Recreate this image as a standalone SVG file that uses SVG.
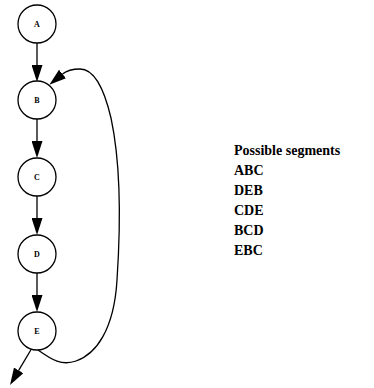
<svg xmlns="http://www.w3.org/2000/svg" width="374" height="388" viewBox="0 0 374 388">
<style>
.node circle{fill:#fff;stroke:#000;stroke-width:1.3}
.node text{font-family:"Liberation Serif",serif;font-weight:bold;font-size:8px;text-anchor:middle}
.edge{fill:none;stroke:#000;stroke-width:1.3;marker-end:url(#arr)}
.legend{font-family:"Liberation Serif",serif;font-weight:bold;font-size:14px}
</style>
<defs>
<marker id="arr" viewBox="0 0 17 11" refX="0" refY="5.5" markerWidth="17" markerHeight="11" markerUnits="userSpaceOnUse" orient="auto">
<path d="M0,0 L17,5.5 L0,11 z" fill="#000"/>
</marker>
</defs>
<rect width="374" height="388" fill="#fff"/>
<g id="connectors">
<line class="edge" x1="37" y1="43" x2="37" y2="65"/>
<line class="edge" x1="37" y1="119" x2="37" y2="141"/>
<line class="edge" x1="37" y1="196" x2="37" y2="218"/>
<line class="edge" x1="37" y1="273" x2="37" y2="295"/>
<line class="edge" x1="32" y1="348" x2="18.7" y2="370.4"/>
<path class="edge" d="M38,350 C52,360 62,366 76,361 C96,354 114,330 117,280 C121,220 120,160 111,118 C103,84 92,69 80,69 C74,69 68,69.5 62.5,74"/>
</g>
<g id="A" class="node"><circle cx="37" cy="24" r="19"/><text x="37" y="27">A</text></g>
<g id="B" class="node"><circle cx="37" cy="100" r="19"/><text x="37" y="103">B</text></g>
<g id="C" class="node"><circle cx="37" cy="177" r="19"/><text x="37" y="180">C</text></g>
<g id="D" class="node"><circle cx="37" cy="254" r="19"/><text x="37" y="257">D</text></g>
<g id="E" class="node"><circle cx="37" cy="331" r="19"/><text x="37" y="334">E</text></g>
<g id="legend" class="legend">
<text x="234" y="155">Possible segments</text>
<text x="234" y="175">ABC</text>
<text x="234" y="195">DEB</text>
<text x="234" y="215">CDE</text>
<text x="234" y="235">BCD</text>
<text x="234" y="255">EBC</text>
</g>
</svg>
